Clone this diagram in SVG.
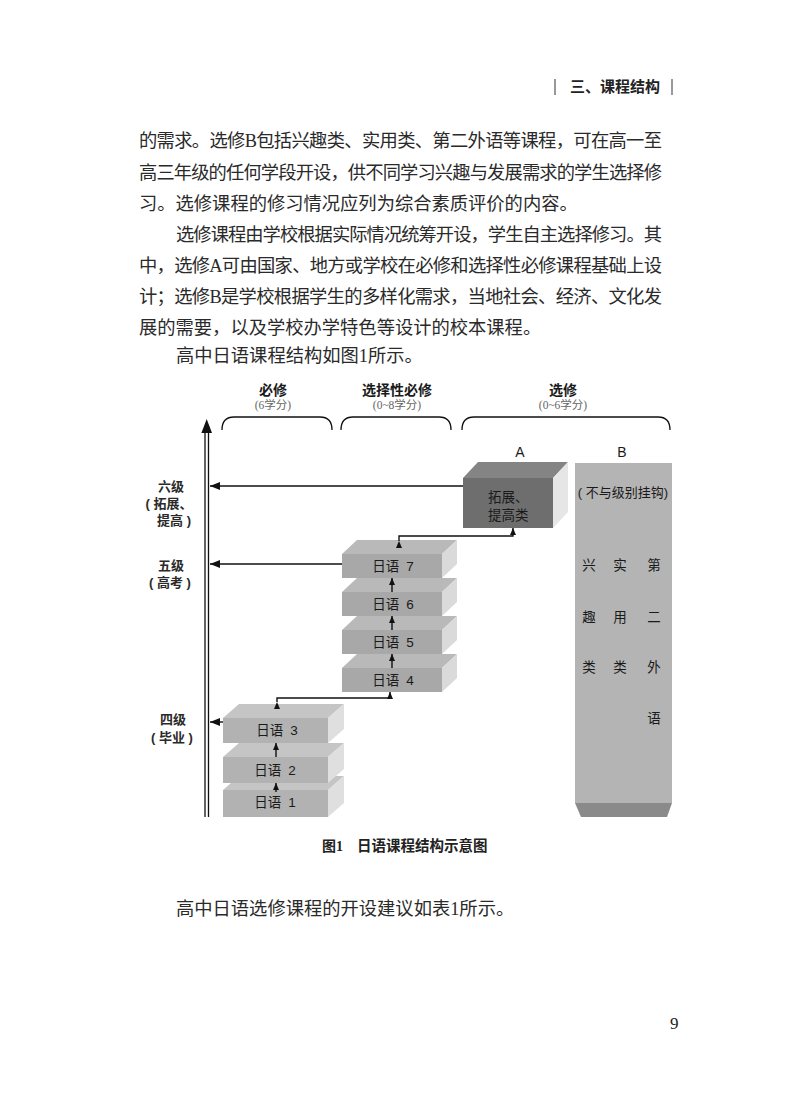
<svg xmlns="http://www.w3.org/2000/svg" width="800" height="1120" viewBox="0 0 800 1120">
<defs>
<style>
.body{font-family:"Liberation Serif","Noto Sans CJK SC",serif;font-size:18.3px;fill:#2a2a2a}
.hd{font-family:"Liberation Sans","Noto Sans CJK SC",sans-serif;font-weight:bold;font-size:15px;fill:#222}
.lbl{font-family:"Liberation Sans","Noto Sans CJK SC",sans-serif;font-size:13.5px;fill:#1a1a1a}
.lvl{font-family:"Liberation Sans","Noto Sans CJK SC",sans-serif;font-size:13px;font-weight:bold;fill:#2a2a2a;text-anchor:middle}
.cat{font-family:"Liberation Sans","Noto Sans CJK SC",sans-serif;font-size:14px;font-weight:bold;fill:#1a1a1a;text-anchor:middle}
.cr{font-family:"Liberation Serif","Noto Sans CJK SC",serif;font-size:11.5px;fill:#666;text-anchor:middle}
.mid{text-anchor:middle}
.cap{font-family:"Liberation Serif","Noto Sans CJK SC",serif;font-size:14px;font-weight:bold;fill:#222}
.ln{fill:none;stroke:#111;stroke-width:1.4}
.br{fill:none;stroke:#111;stroke-width:1.3}
.f1{fill:#b2b2b2}.t1{fill:#c5c5c5}.r1{fill:#dfdfdf}
.f2{fill:#a8a8a8}.t2{fill:#b9b9b9}.r2{fill:#dadada}
.fa{fill:#6e6e6e}.ta{fill:#848484}.ra{fill:#e6e6e6}
</style>
<marker id="ah" viewBox="0 0 10 8" refX="10" refY="4" markerWidth="10" markerHeight="8" markerUnits="userSpaceOnUse" orient="auto"><path d="M0,0 L10,4 L0,8 z" fill="#111"/></marker>
<marker id="as" viewBox="0 0 7 6" refX="7" refY="3" markerWidth="7" markerHeight="6" markerUnits="userSpaceOnUse" orient="auto"><path d="M0,0 L7,3 L0,6 z" fill="#111"/></marker>
</defs>
<rect width="800" height="1120" fill="#fff"/>

<g id="page-header">
<line x1="555" y1="79" x2="555" y2="95" stroke="#333" stroke-width="1"/>
<text class="hd" x="570" y="92">三、课程结构</text>
<line x1="672" y1="79" x2="672" y2="95" stroke="#333" stroke-width="1"/>
</g>

<g id="body-text">
<text class="body" x="139" y="147" textLength="523" lengthAdjust="spacing">的需求。选修B包括兴趣类、实用类、第二外语等课程，可在高一至</text>
<text class="body" x="139" y="179" textLength="523" lengthAdjust="spacing">高三年级的任何学段开设，供不同学习兴趣与发展需求的学生选择修</text>
<text class="body" x="139" y="210">习。选修课程的修习情况应列为综合素质评价的内容。</text>
<text class="body" x="176" y="241" textLength="486" lengthAdjust="spacing">选修课程由学校根据实际情况统筹开设，学生自主选择修习。其</text>
<text class="body" x="139" y="272" textLength="523" lengthAdjust="spacing">中，选修A可由国家、地方或学校在必修和选择性必修课程基础上设</text>
<text class="body" x="139" y="303" textLength="523" lengthAdjust="spacing">计；选修B是学校根据学生的多样化需求，当地社会、经济、文化发</text>
<text class="body" x="139" y="334">展的需要，以及学校办学特色等设计的校本课程。</text>
<text class="body" x="176" y="362">高中日语课程结构如图1所示。</text>
</g>

<g id="column-headers">
<text class="cat" x="273" y="395">必修</text>
<text class="cr" x="273" y="409">(6学分)</text>
<text class="cat" x="397" y="395">选择性必修</text>
<text class="cr" x="397" y="409">(0~8学分)</text>
<text class="cat" x="563" y="395">选修</text>
<text class="cr" x="563" y="409">(0~6学分)</text>
<path class="br" d="M222,430 Q222,417 234,417 L320,417 Q332,417 332,430"/>
<path class="br" d="M341,430 Q341,417 353,417 L439,417 Q451,417 451,430"/>
<path class="br" d="M462,430 Q462,417 474,417 L658,417 Q670,417 670,430"/>
</g>

<g id="axis">
<line x1="205" y1="428" x2="205" y2="817" stroke="#111" stroke-width="1.3"/>
<line x1="208.5" y1="428" x2="208.5" y2="817" stroke="#111" stroke-width="1.3"/>
<path d="M206.7,419 L212,433 L201.4,433 z" fill="#111"/>
</g>

<g id="level-labels" xml:space="preserve">
<text class="lvl" x="171" y="491">六级</text>
<text class="lvl" x="169" y="508">( 拓展、</text>
<text class="lvl" x="174" y="525">提高 )</text>
<text class="lvl" x="171" y="570">五级</text>
<text class="lvl" x="170" y="587">( 高考 )</text>
<text class="lvl" x="173" y="724">四级</text>
<text class="lvl" x="172" y="742">( 毕业 )</text>
</g>

<g id="block-1">
<polygon class="t1" points="223,790 239,776 344,776 328,790"/>
<polygon class="r1" points="328,790 344,776 344,803 328,817"/>
<rect class="f1" x="223" y="790" width="105" height="27"/>
<text class="lbl mid" x="275" y="807">日语<tspan dx="7">1</tspan></text>
</g>
<g id="block-2">
<polygon class="t1" points="223,757 239,743 344,743 328,757"/>
<polygon class="r1" points="328,757 344,743 344,769 328,783"/>
<rect class="f1" x="223" y="757" width="105" height="26"/>
<text class="lbl mid" x="275" y="775">日语<tspan dx="7">2</tspan></text>
</g>
<g id="block-3">
<polygon class="t1" points="223,718 239,704 344,704 328,718"/>
<polygon class="r1" points="328,718 344,704 344,729 328,743"/>
<rect class="f1" x="223" y="718" width="105" height="25"/>
<text class="lbl mid" x="277" y="735">日语<tspan dx="7">3</tspan></text>
</g>

<g id="block-4">
<polygon class="t2" points="342,668 357,654 457,654 442,668"/>
<polygon class="r2" points="442,668 457,654 457,678 442,692"/>
<rect class="f2" x="342" y="668" width="100" height="24"/>
<text class="lbl mid" x="393" y="685">日语<tspan dx="7">4</tspan></text>
</g>
<g id="block-5">
<polygon class="t2" points="342,630 357,616 457,616 442,630"/>
<polygon class="r2" points="442,630 457,616 457,640 442,654"/>
<rect class="f2" x="342" y="630" width="100" height="24"/>
<text class="lbl mid" x="393" y="647">日语<tspan dx="7">5</tspan></text>
</g>
<g id="block-6">
<polygon class="t2" points="342,592 357,578 457,578 442,592"/>
<polygon class="r2" points="442,592 457,578 457,602 442,616"/>
<rect class="f2" x="342" y="592" width="100" height="24"/>
<text class="lbl mid" x="393" y="609">日语<tspan dx="7">6</tspan></text>
</g>
<g id="block-7">
<polygon class="t2" points="342,554 357,540 457,540 442,554"/>
<polygon class="r2" points="442,554 457,540 457,564 442,578"/>
<rect class="f2" x="342" y="554" width="100" height="24"/>
<text class="lbl mid" x="393" y="571">日语<tspan dx="7">7</tspan></text>
</g>

<g id="block-A">
<text class="lbl mid" x="520" y="457" style="font-size:14px">A</text>
<polygon class="ta" points="463,478 478,462 568,462 553,478"/>
<polygon class="ra" points="553,478 568,462 568,512 553,528"/>
<rect class="fa" x="463" y="478" width="90" height="50"/>
<text class="lbl" x="488" y="502" fill="#1e1e1e">拓展、</text>
<text class="lbl" x="488" y="520" fill="#1e1e1e">提高类</text>
</g>

<g id="block-B">
<text class="lbl mid" x="622" y="457" style="font-size:14px">B</text>
<rect x="575" y="463" width="97" height="340" fill="#b4b4b4"/>
<polygon points="575,803 672,803 667,817 581,817" fill="#8a8a8a"/>
<text class="lbl mid" x="623" y="497" style="font-size:13px">( 不与级别挂钩)</text>
<text class="lbl mid" x="589" y="570">兴</text>
<text class="lbl mid" x="589" y="622">趣</text>
<text class="lbl mid" x="589" y="672">类</text>
<text class="lbl mid" x="620" y="570">实</text>
<text class="lbl mid" x="620" y="622">用</text>
<text class="lbl mid" x="620" y="672">类</text>
<text class="lbl mid" x="654" y="570">第</text>
<text class="lbl mid" x="654" y="622">二</text>
<text class="lbl mid" x="654" y="672">外</text>
<text class="lbl mid" x="654" y="723">语</text>
</g>

<g id="connectors">
<line class="ln" x1="463" y1="486" x2="210" y2="486" marker-end="url(#ah)"/>
<line class="ln" x1="342" y1="564" x2="210" y2="564" marker-end="url(#ah)"/>
<line class="ln" x1="223" y1="722" x2="210" y2="722" marker-end="url(#ah)"/>
<line class="ln" x1="276" y1="792" x2="276" y2="783" marker-end="url(#as)"/>
<line class="ln" x1="276" y1="757" x2="276" y2="743" marker-end="url(#as)"/>
<line class="ln" x1="392" y1="668" x2="392" y2="654" marker-end="url(#as)"/>
<line class="ln" x1="392" y1="630" x2="392" y2="616" marker-end="url(#as)"/>
<line class="ln" x1="392" y1="592" x2="392" y2="578" marker-end="url(#as)"/>
<path class="ln" d="M277,702 L277,698 L390,698 L390,692" marker-start="url(#as)" marker-end="url(#as)"/>
<path class="ln" d="M399,541 L399,536 L513,536 L513,528" marker-start="url(#as)" marker-end="url(#as)"/>
</g>

<g id="caption">
<text class="cap" x="322" y="851">图1</text>
<text class="cap" x="357" y="851" style="font-family:'Liberation Sans','Noto Sans CJK SC',sans-serif;font-size:14.5px">日语课程结构示意图</text>
</g>

<g id="footer-text">
<text class="body" x="176" y="915">高中日语选修课程的开设建议如表1所示。</text>
<text x="670" y="1029" style="font-family:'Liberation Serif',serif;font-size:17px;fill:#222">9</text>
</g>
</svg>
